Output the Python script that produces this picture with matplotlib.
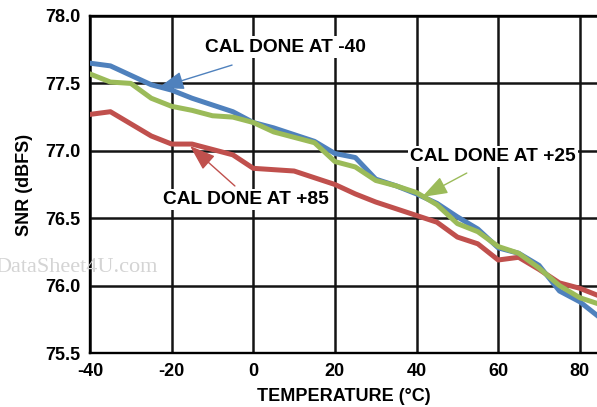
import numpy as np
import matplotlib
matplotlib.use("Agg")
import matplotlib.pyplot as plt

plt.rcParams['font.family'] = ['Liberation Sans', 'DejaVu Sans']
plt.rcParams['font.weight'] = 'bold'
plt.rcParams['axes.unicode_minus'] = False

# data
temp = [-40, -35, -30, -25, -20, -15, -10, -5, 0, 5, 10, 15, 20,
        25, 30, 35, 40, 45, 50, 55, 60, 65, 70, 75, 80, 85]
snr_cal_m40 = [77.65, 77.63, 77.56, 77.49, 77.45, 77.39, 77.34, 77.29, 77.21,
               77.17, 77.12, 77.07, 76.98, 76.95, 76.79, 76.74, 76.68, 76.61,
               76.51, 76.42, 76.28, 76.24, 76.15, 75.96, 75.88, 75.76]
snr_cal_p25 = [77.57, 77.51, 77.50, 77.39, 77.33, 77.30, 77.26, 77.25, 77.21,
               77.14, 77.10, 77.06, 76.92, 76.88, 76.78, 76.74, 76.69, 76.60,
               76.46, 76.40, 76.29, 76.24, 76.13, 76.00, 75.91, 75.86]
snr_cal_p85 = [77.27, 77.29, 77.20, 77.11, 77.05, 77.05, 77.01, 76.97, 76.87,
               76.86, 76.85, 76.80, 76.75, 76.68, 76.62, 76.57, 76.52, 76.47,
               76.36, 76.31, 76.19, 76.21, 76.12, 76.02, 75.98, 75.92]
xticks = [-40, -20, 0, 20, 40, 60, 80]
yticks = [75.5, 76.0, 76.5, 77.0, 77.5, 78.0]

blue = '#4F81BD'
green = '#9BBB59'
red = '#C0504D'

fig, ax = plt.subplots(figsize=(5.97, 4.07), dpi=100)
fig.subplots_adjust(left=90/597, right=1.0, bottom=54/407, top=1 - 16/407)

ax.plot(temp, snr_cal_p85, color=red, lw=3.6, solid_joinstyle='round', zorder=3)
ax.plot(temp, snr_cal_m40, color=blue, lw=3.6, solid_joinstyle='round', zorder=4)
ax.plot(temp, snr_cal_p25, color=green, lw=3.6, solid_joinstyle='round', zorder=5)

ax.set_xlim(-40, 84.2)
ax.set_ylim(75.5, 78.0)
ax.set_xticks(xticks)
ax.set_yticks(yticks)
ax.set_yticklabels(['%.1f' % v for v in yticks])
ax.tick_params(length=0, labelsize=13, pad=7,
               grid_color='#141414', grid_linewidth=1.8, grid_alpha=1.0)
ax.grid(True)
ax.set_axisbelow(True)
for s in ['top', 'left', 'bottom']:
    ax.spines[s].set_linewidth(1.7)
ax.spines['right'].set_visible(False)

ax.set_xlabel('TEMPERATURE (°C)', fontsize=13, fontweight='bold', labelpad=6)
ax.set_ylabel('SNR (dBFS)', fontsize=13, fontweight='bold', labelpad=9)

bbox = dict(facecolor='white', edgecolor='none', pad=1.5)
ax.text(-11.8, 77.77, 'CAL DONE AT -40', fontsize=13.8, fontweight='bold',
        ha='left', va='center', bbox=bbox, zorder=6)
ax.text(38.5, 76.96, 'CAL DONE AT +25', fontsize=13.8, fontweight='bold',
        ha='left', va='center', bbox=bbox, zorder=6)
ax.text(-22.1, 76.64, 'CAL DONE AT +85', fontsize=13.8, fontweight='bold',
        ha='left', va='center', bbox=bbox, zorder=6)

head = '-|>,head_length=0.8,head_width=0.28'
ax.annotate('', xy=(-23.3, 77.466), xytext=(-5.2, 77.636),
            arrowprops=dict(arrowstyle=head, color=blue, lw=1, mutation_scale=20,
                            shrinkA=0, shrinkB=0), zorder=7)
ax.annotate('', xy=(41.3, 76.657), xytext=(52.3, 76.835),
            arrowprops=dict(arrowstyle=head, color=green, lw=1, mutation_scale=20,
                            shrinkA=0, shrinkB=0), zorder=7)
ax.annotate('', xy=(-15.5, 77.036), xytext=(-4.5, 76.739),
            arrowprops=dict(arrowstyle=head, color=red, lw=1, mutation_scale=20,
                            shrinkA=0, shrinkB=0), zorder=7)

fig.text(-5/597, 1 - 267/407, 'DataSheet4U.com', fontsize=16, color='#d4d4d4',
         family=['Liberation Serif', 'DejaVu Serif'], fontweight='normal',
         ha='left', va='center')

fig.savefig('out.png', dpi=100)
